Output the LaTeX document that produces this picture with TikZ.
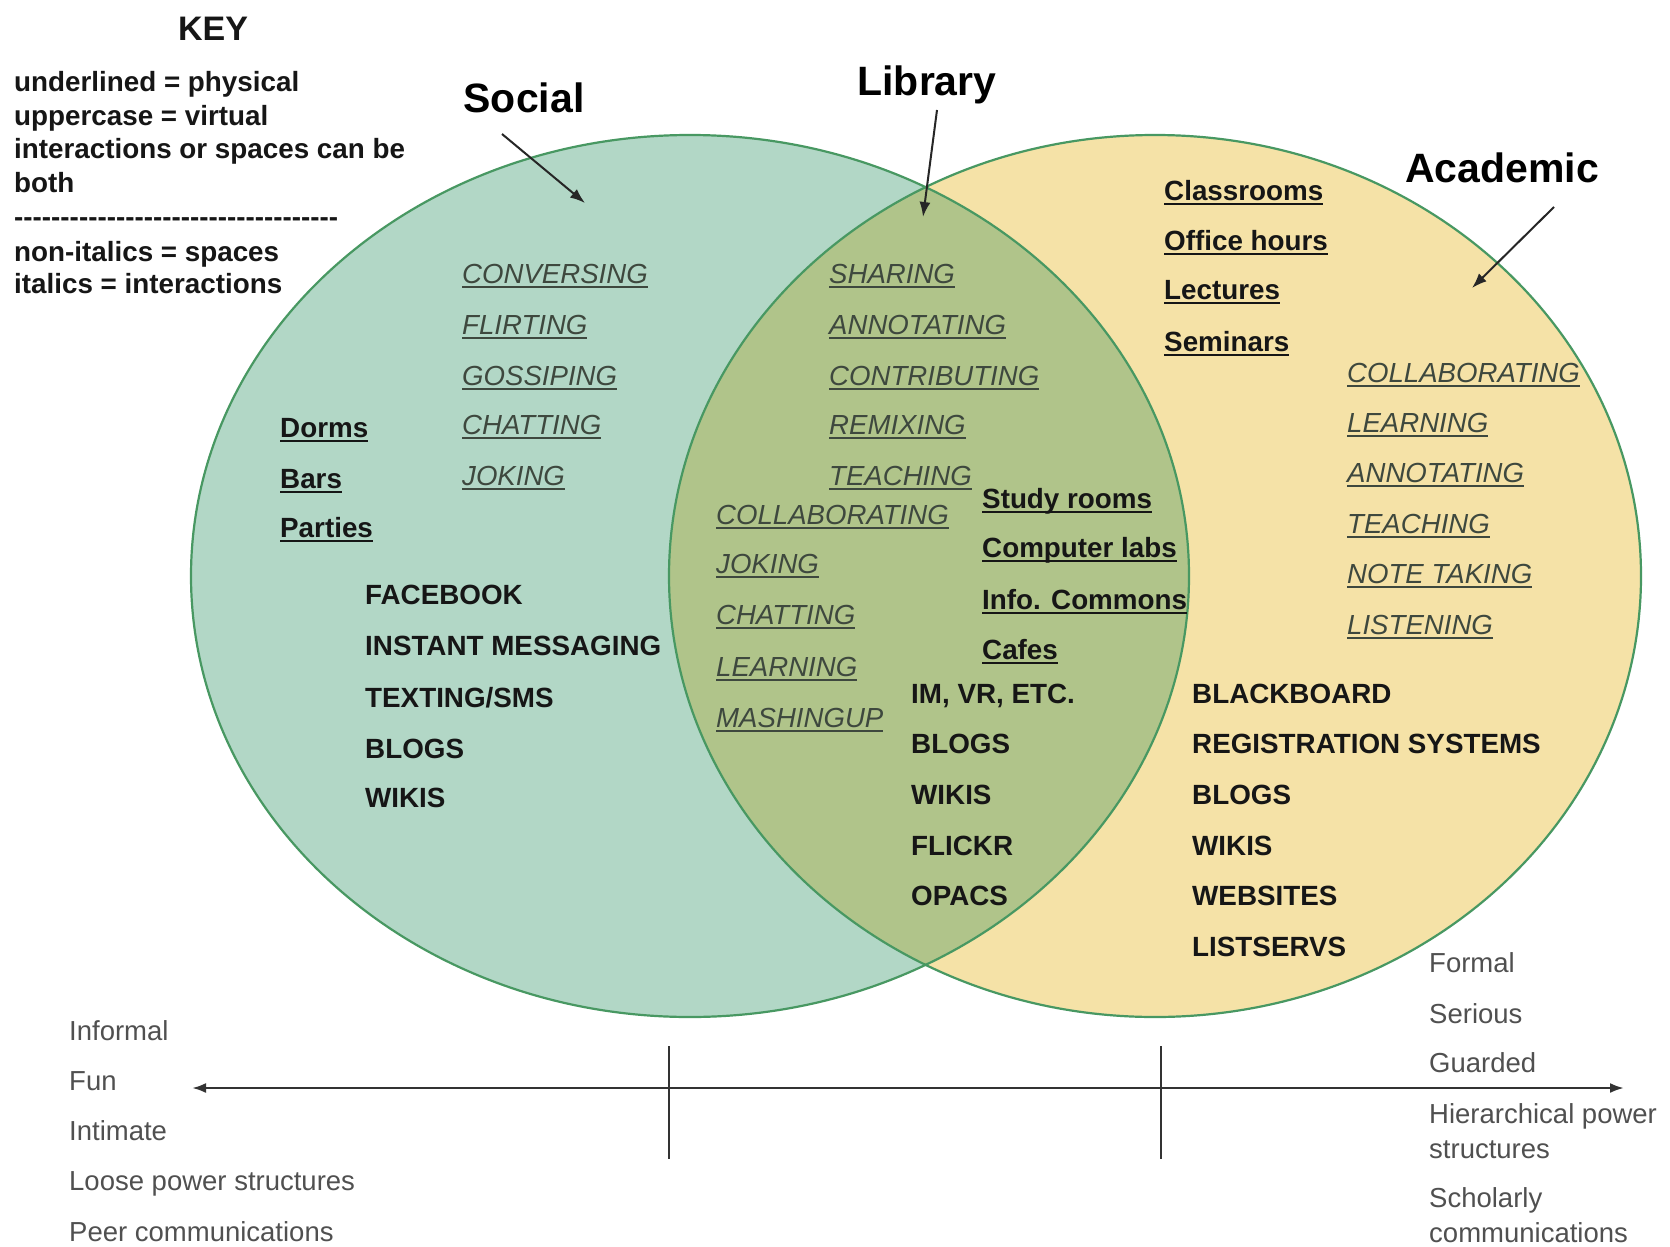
\documentclass[tikz,border=0pt]{standalone}
\usepackage{fontspec}
\setmainfont{Liberation Sans}
\usetikzlibrary{arrows.meta}
\definecolor{socialfill}{RGB}{178,215,198}
\definecolor{acadfill}{RGB}{245,226,167}
\definecolor{libfill}{RGB}{176,196,138}
\definecolor{edgegreen}{RGB}{72,152,98}
\definecolor{ittext}{RGB}{62,72,62}
\definecolor{bltext}{RGB}{22,22,22}
\definecolor{axtext}{RGB}{80,80,80}
\newcommand\myul[1]{\setbox0\hbox{#1}\rlap{\rule[-5pt]{\wd0}{2pt}}\box0}
\newcommand\hyrow{-{}-{}-{}-{}-{}-{}-{}-{}-{}-{}-{}-{}-{}-{}-{}-{}-{}-{}-{}-{}-{}-{}-{}-{}-{}-{}-{}-{}-{}-{}-{}-{}-{}-{}-{}}
\tikzset{
  it/.style={anchor=base west, yshift=-10pt, inner sep=0pt, text=ittext, font=\fontsize{27.6}{32}\selectfont\itshape},
  sp/.style={anchor=base west, yshift=-10pt, inner sep=0pt, text=bltext, font=\fontsize{27.8}{32}\selectfont\bfseries},
  ax/.style={anchor=base west, yshift=-9pt, inner sep=0pt, text=axtext, font=\fontsize{27.5}{31}\selectfont},
  kt/.style={anchor=base west, yshift=-9pt, inner sep=0pt, text=bltext, font=\fontsize{27.8}{31}\selectfont\bfseries},
  ttl/.style={inner sep=0pt, text=black, font=\fontsize{41}{48}\selectfont\bfseries},
  ptr/.style={-{Latex[length=15pt,width=11pt]}, line width=2pt, draw=black!85},
  axis/.style={{Latex[length=14pt,width=10pt]}-{Latex[length=14pt,width=10pt]}, line width=2.5pt, draw=black!80},
  tick/.style={line width=2pt, draw=black!80},
  vedge/.style={draw=edgegreen, line width=2.2pt},
}
\begin{document}
\begin{tikzpicture}[x=1pt,y=-1pt]
\useasboundingbox (0,0) rectangle (1670,1247);
\fill[white] (0,0) rectangle (1670,1247);
% ellipses
\fill[socialfill] (690,576) ellipse [x radius=499pt, y radius=441pt];
\fill[acadfill] (1155,576) ellipse [x radius=486pt, y radius=441pt];
\begin{scope}
  \clip (690,576) ellipse [x radius=499pt, y radius=441pt];
  \fill[libfill] (1155,576) ellipse [x radius=486pt, y radius=441pt];
\end{scope}
\draw[vedge] (690,576) ellipse [x radius=499pt, y radius=441pt];
\draw[vedge] (1155,576) ellipse [x radius=486pt, y radius=441pt];

% key
\node[inner sep=0pt, font=\fontsize{34}{40}\selectfont\bfseries, text=bltext] (key) at (213,29) {KEY};
\node[kt] (k1) at (14,82) {underlined = physical};
\node[kt] (k2) at (14,116) {uppercase = virtual};
\node[kt] (k3) at (14,149) {interactions or spaces can be};
\node[kt] (k4) at (14,183) {both};
\node[kt] (k5) at (14,217) {\hyrow};
\node[kt] (k6) at (14,252) {non-italics = spaces};
\node[kt] (k7) at (14,284) {italics = interactions};

% titles and pointers
\node[ttl] (social) at (524,98) {Social};
\node[ttl] (library) at (927,85) {Library};
\node[ttl] (academic) at (1502,168) {Academic};
\coordinate (socS) at (502,134);
\coordinate (socE) at (585,203);
\coordinate (libS) at (937,110);
\coordinate (libE) at (923,217);
\coordinate (acaS) at (1554,207);
\coordinate (acaE) at (1472,288);
\draw[ptr] (socS) -- (socE);
\draw[ptr] (libS) -- (libE);
\draw[ptr] (acaS) -- (acaE);

% social
\node[it] (s1) at (462,273) {\myul{CONVERSING}};
\node[it] (s2) at (462,324) {\myul{FLIRTING}};
\node[it] (s3) at (462,375) {\myul{GOSSIPING}};
\node[it] (s4) at (462,424) {\myul{CHATTING}};
\node[it] (s5) at (462,475) {\myul{JOKING}};
\node[sp] (sp1) at (280,427) {\myul{Dorms}};
\node[sp] (sp2) at (280,478) {\myul{Bars}};
\node[sp] (sp3) at (280,527) {\myul{Parties}};
\node[sp] (sv1) at (365,594) {FACEBOOK};
\node[sp] (sv2) at (365,645) {INSTANT MESSAGING};
\node[sp] (sv3) at (365,697) {TEXTING/SMS};
\node[sp] (sv4) at (365,748) {BLOGS};
\node[sp] (sv5) at (365,797) {WIKIS};

% library
\node[it] (l1) at (829,273) {\myul{SHARING}};
\node[it] (l2) at (829,324) {\myul{ANNOTATING}};
\node[it] (l3) at (829,375) {\myul{CONTRIBUTING}};
\node[it] (l4) at (829,424) {\myul{REMIXING}};
\node[it] (l5) at (829,475) {\myul{TEACHING}};
\node[it] (l6) at (716,514) {\myul{COLLABORATING}};
\node[it] (l7) at (716,563) {\myul{JOKING}};
\node[it] (l8) at (716,614) {\myul{CHATTING}};
\node[it] (l9) at (716,666) {\myul{LEARNING}};
\node[it] (l10) at (716,717) {\myul{MASHINGUP}};
\node[sp] (lp1) at (982,498) {\myul{Study rooms}};
\node[sp] (lp2) at (982,547) {\myul{Computer labs}};
\node[sp] (lp3) at (982,599) {\myul{Info. Commons}};
\node[sp] (lp4) at (982,649) {\myul{Cafes}};
\node[sp] (lv1) at (911,693) {IM, VR, ETC.};
\node[sp] (lv2) at (911,743) {BLOGS};
\node[sp] (lv3) at (911,794) {WIKIS};
\node[sp] (lv4) at (911,845) {FLICKR};
\node[sp] (lv5) at (911,895) {OPACS};

% academic
\node[sp] (ap1) at (1164,190) {\myul{Classrooms}};
\node[sp] (ap2) at (1164,240) {\myul{Office hours}};
\node[sp] (ap3) at (1164,289) {\myul{Lectures}};
\node[sp] (ap4) at (1164,341) {\myul{Seminars}};
\node[it] (a1) at (1347,372) {\myul{COLLABORATING}};
\node[it] (a2) at (1347,422) {\myul{LEARNING}};
\node[it] (a3) at (1347,472) {\myul{ANNOTATING}};
\node[it] (a4) at (1347,523) {\myul{TEACHING}};
\node[it] (a5) at (1347,573) {\myul{NOTE TAKING}};
\node[it] (a6) at (1347,624) {\myul{LISTENING}};
\node[sp] (av1) at (1192,693) {BLACKBOARD};
\node[sp] (av2) at (1192,743) {REGISTRATION SYSTEMS};
\node[sp] (av3) at (1192,794) {BLOGS};
\node[sp] (av4) at (1192,845) {WIKIS};
\node[sp] (av5) at (1192,895) {WEBSITES};
\node[sp] (av6) at (1192,946) {LISTSERVS};

% axis
\coordinate (axL) at (192,1088);
\coordinate (axR) at (1624,1088);
\coordinate (t1a) at (669,1046);
\coordinate (t1b) at (669,1159);
\coordinate (t2a) at (1161,1046);
\coordinate (t2b) at (1161,1159);
\draw[axis] (axL) -- (axR);
\draw[tick] (t1a) -- (t1b);
\draw[tick] (t2a) -- (t2b);

\node[ax] (b1) at (69,1031) {Informal};
\node[ax] (b2) at (69,1081) {Fun};
\node[ax] (b3) at (69,1131) {Intimate};
\node[ax] (b4) at (69,1181) {Loose power structures};
\node[ax] (b5) at (69,1232) {Peer communications};

\node[ax] (r1) at (1429,963) {Formal};
\node[ax] (r2) at (1429,1014) {Serious};
\node[ax] (r3) at (1429,1063) {Guarded};
\node[ax] (r4) at (1429,1114) {Hierarchical power};
\node[ax] (r5) at (1429,1149) {structures};
\node[ax] (r6) at (1429,1198) {Scholarly};
\node[ax] (r7) at (1429,1233) {communications};
\end{tikzpicture}
\end{document}
